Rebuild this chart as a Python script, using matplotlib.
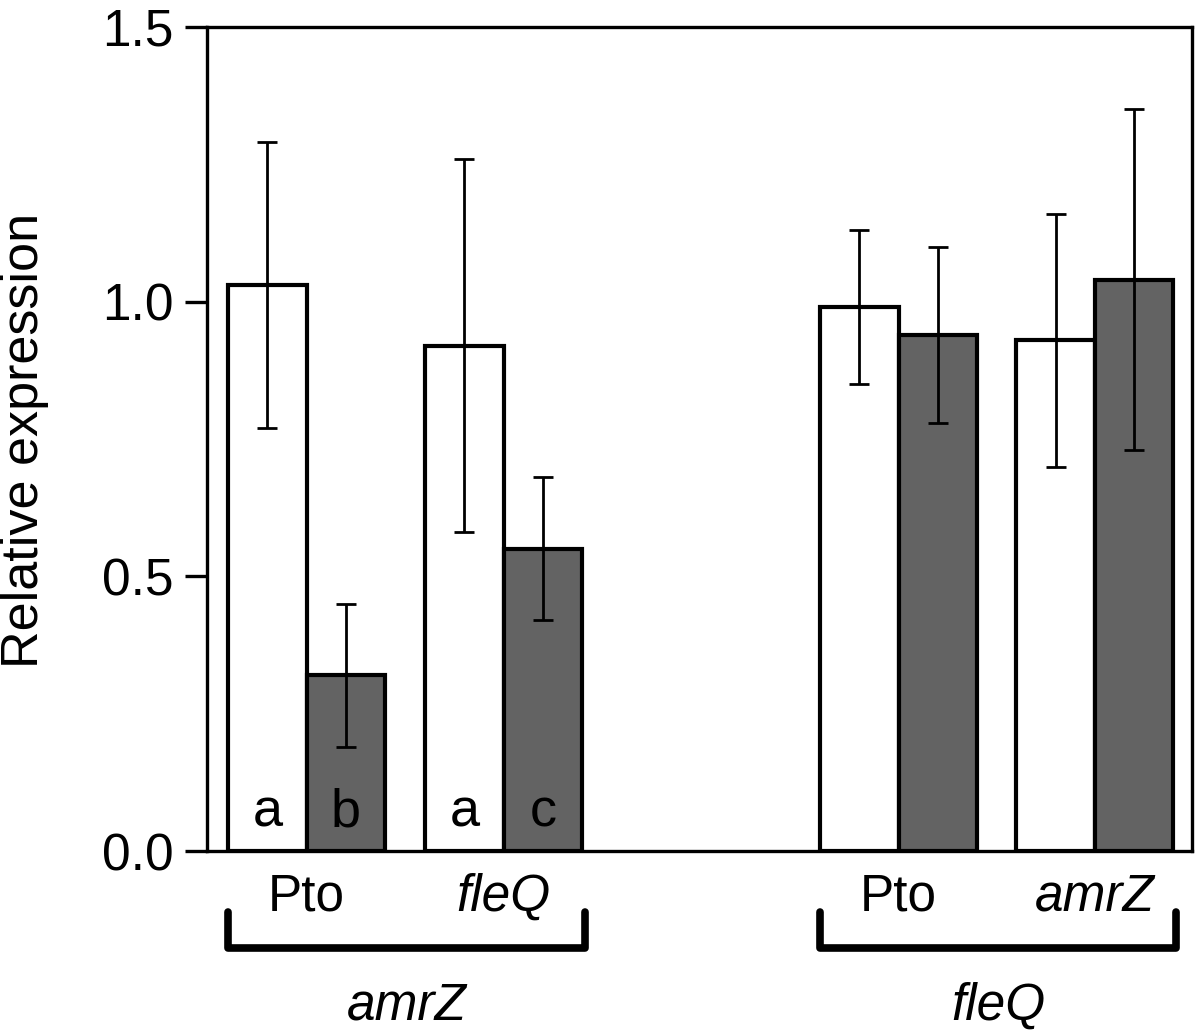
import matplotlib
matplotlib.use("Agg")
import matplotlib.pyplot as plt
import matplotlib.transforms as mtransforms
import numpy as np

plt.rcParams['font.family'] = ['Liberation Sans', 'DejaVu Sans']

# data
groups = ['amrZ', 'fleQ']                    # gene measured
strains = [['Pto', 'fleQ'], ['Pto', 'amrZ']]  # strain within each group
strain_italic = [[False, True], [False, True]]
white_vals = [1.03, 0.92, 0.99, 0.93]
white_err = [0.26, 0.34, 0.14, 0.23]
gray_vals = [0.32, 0.55, 0.94, 1.04]
gray_err = [0.13, 0.13, 0.16, 0.31]
letters_white = ['a', 'a', '', '']
letters_gray = ['b', 'c', '', '']

# layout: centre of each white/gray pair (in bar-width units)
pair_centres = np.array([1.27, 3.78, 8.81, 11.31])
w = 1.0

fig = plt.figure(figsize=(12, 10.33), dpi=100)
ax = fig.add_axes([0.1725, 0.176, 0.821, 0.798])

xw = pair_centres - w / 2
xg = pair_centres + w / 2
err_kw = dict(elinewidth=2.0, capsize=7, capthick=2.0, ecolor='black')
ax.bar(xw, white_vals, w, yerr=white_err, color='white', edgecolor='black',
       linewidth=3, error_kw=err_kw, zorder=2)
ax.bar(xg, gray_vals, w, yerr=gray_err, color='#636363', edgecolor='black',
       linewidth=3, error_kw=err_kw, zorder=2)

for x, t in zip(xw, letters_white):
    ax.text(x, 0.045, t, ha='center', va='baseline', fontsize=39)
for x, t in zip(xg, letters_gray):
    ax.text(x, 0.045, t, ha='center', va='baseline', fontsize=39)

ax.set_xlim(0, 12.55)
ax.set_ylim(0, 1.5)
ax.set_yticks([0, 0.5, 1.0, 1.5])
ax.set_yticklabels(['0.0', '0.5', '1.0', '1.5'])
ax.tick_params(axis='y', direction='out', length=16, width=2.4, pad=8,
               labelsize=37)
ax.tick_params(axis='x', length=0, labelbottom=False)
for s in ax.spines.values():
    s.set_linewidth(2.4)
fig.text(25 / 1200, 0.574, 'Relative expression', rotation=90,
         ha='center', va='center', fontsize=37.5)

trans = mtransforms.blended_transform_factory(ax.transData, ax.transAxes)

# strain labels under each pair
for gi in range(2):
    for si in range(2):
        k = gi * 2 + si
        ax.text(pair_centres[k], -0.026, strains[gi][si], transform=trans,
                ha='center', va='top', fontsize=37,
                style='italic' if strain_italic[gi][si] else 'normal')

# brackets and group labels
for gi, g in enumerate(groups):
    x0 = xw[gi * 2] - w / 2
    x1 = xg[gi * 2 + 1] + w / 2 + 0.03
    ax.plot([x0, x0, x1, x1], [-0.074, -0.117, -0.117, -0.074],
            transform=trans, color='black', lw=5.5, clip_on=False,
            solid_joinstyle='round', solid_capstyle='round')
    ax.text((x0 + x1) / 2, -0.188, g, transform=trans, ha='center',
            va='center', fontsize=37, style='italic')

fig.savefig('out.png', dpi=100)
